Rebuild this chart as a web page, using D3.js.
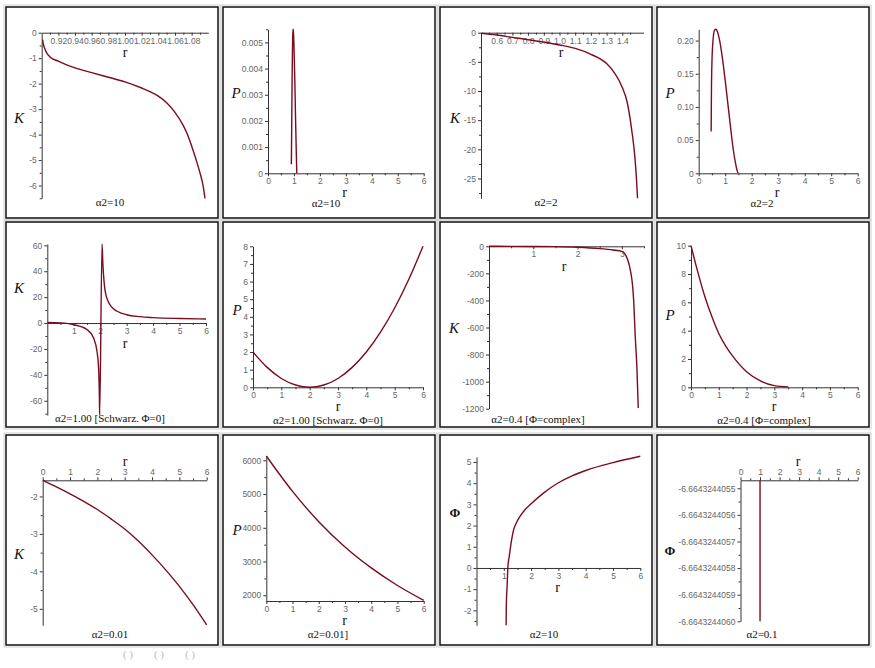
<!DOCTYPE html>
<html>
<head>
<meta charset="utf-8">
<script src="https://cdn.jsdelivr.net/npm/d3@7"></script>
<style>
body { margin: 0; background: #fff; }
.tick text { font-family: "Liberation Sans", Arial, sans-serif; font-size: 8.5px; fill: #666; }
.tick line, .domain { stroke: #333; stroke-width: 1; }
.lbl { font-family: "Liberation Serif", "Times New Roman", serif; fill: #111; }
</style>
</head>
<body>
<script>
// ---- data ----
var p1R = [0.901, 0.902, 0.904, 0.907, 0.91, 0.92, 0.93, 0.94, 0.96, 0.98, 1.00, 1.02, 1.03, 1.04, 1.05, 1.06, 1.07, 1.075, 1.08, 1.085, 1.09, 1.094, 1.096];
var p1K = [-0.27, -0.45, -0.66, -0.84, -0.95, -1.12, -1.26, -1.38, -1.57, -1.75, -1.93, -2.17, -2.31, -2.49, -2.75, -3.13, -3.65, -4.0, -4.45, -4.95, -5.5, -6.05, -6.5];

var p2R = [0.90, 0.91, 0.92, 0.93, 0.94, 0.95, 0.96, 0.97, 0.98, 1.00, 1.03, 1.06, 1.09, 1.11];
var p2P = [0.00035, 0.0014, 0.0026, 0.0037, 0.0045, 0.0051, 0.0054, 0.0055, 0.0054, 0.0049, 0.0037, 0.0022, 0.0008, 0.0];

var p3R = [0.5, 0.6, 0.7, 0.8, 0.9, 1.0, 1.1, 1.2, 1.3, 1.35, 1.4, 1.43, 1.46, 1.48, 1.49, 1.497];
var p3K = [-0.1, -0.4, -0.8, -1.2, -1.6, -2.1, -2.7, -3.7, -5.3, -6.9, -9.4, -11.8, -16.7, -21.3, -25, -28.4];

var p4R = [0.47, 0.48, 0.5, 0.55, 0.6, 0.65, 0.7, 0.8, 0.9, 1.0, 1.1, 1.2, 1.3, 1.4, 1.45, 1.49];
var p4P = [0.063, 0.12, 0.168, 0.205, 0.216, 0.217, 0.214, 0.198, 0.172, 0.14, 0.105, 0.07, 0.037, 0.013, 0.004, 0];

var p5R = [0, 0.5, 1.0, 1.5, 1.75, 1.88, 1.94, 1.97, 1.98, 2.07, 2.1, 2.15, 2.24, 2.5, 3, 3.5, 4, 5, 6];
var p5K = [0.5, 0.1, -1.3, -5, -11.6, -22, -35, -58, -71, 61, 46, 31, 20, 11, 6.4, 4.9, 4.2, 3.5, 3.1];

var p6R = [0, 0.5, 1, 1.5, 2, 2.5, 3, 3.5, 4, 4.5, 5, 5.5, 6];
var p6P = [2, 1.13, 0.5, 0.13, 0, 0.13, 0.5, 1.13, 2, 3.13, 4.5, 6.13, 8];

var p7R = [0, 0.5, 1, 1.5, 2, 2.5, 2.8, 3.0, 3.13, 3.2, 3.24, 3.27, 3.3, 3.34, 3.37];
var p7K = [0, -0.3, -1, -2.5, -7, -17, -27, -37, -98, -190, -283, -420, -650, -900, -1195];

var p8R = [0, 0.25, 0.5, 0.75, 1, 1.25, 1.5, 2, 2.5, 3, 3.5];
var p8P = [10, 8.1, 6.4, 5.0, 3.8, 2.9, 2.2, 1.1, 0.45, 0.12, 0.03];

var p9R = [0, 0.5, 1, 1.5, 2, 2.5, 3, 3.5, 4, 4.5, 5, 5.5, 6];
var p9K = [-1.57, -1.745, -1.93, -2.13, -2.35, -2.6, -2.87, -3.19, -3.56, -3.96, -4.4, -4.89, -5.43];

var p10R = [0, 1, 2, 3, 4, 5, 6];
var p10P = [6128, 5080, 4180, 3430, 2810, 2290, 1850];

var p11R = [1.085, 1.09, 1.1, 1.12, 1.15, 1.2, 1.27, 1.35, 1.45, 1.6, 1.8, 2, 2.5, 3, 3.5, 4, 5, 6];
var p11Phi = [-2.7, -2.0, -1.4, -0.9, 0.05, 0.55, 1.2, 1.75, 2.1, 2.45, 2.78, 3.03, 3.58, 4.02, 4.35, 4.6, 4.97, 5.27];

var p12R = [1, 1];
var p12Phi = [-6.66432440547, -6.6643244060];

// tick values
var p1XTicks = [0.92, 0.94, 0.96, 0.98, 1.00, 1.02, 1.04, 1.06, 1.08];
var p1YTicks = [0, -1, -2, -3, -4, -5, -6];
var p2XTicks = [0, 1, 2, 3, 4, 5, 6];
var p2YTicks = [0, 0.001, 0.002, 0.003, 0.004, 0.005];
var p3XTicks = [0.6, 0.7, 0.8, 0.9, 1.0, 1.1, 1.2, 1.3, 1.4];
var p3YTicks = [0, -5, -10, -15, -20, -25];
var p4XTicks = [0, 1, 2, 3, 4, 5, 6];
var p4YTicks = [0, 0.05, 0.10, 0.15, 0.20];
var p5XTicks = [1, 2, 3, 4, 5, 6];
var p5YTicks = [-60, -40, -20, 0, 20, 40, 60];
var p6XTicks = [0, 1, 2, 3, 4, 5, 6];
var p6YTicks = [0, 1, 2, 3, 4, 5, 6, 7, 8];
var p7XTicks = [1, 2, 3];
var p7YTicks = [0, -200, -400, -600, -800, -1000, -1200];
var p8XTicks = [0, 1, 2, 3, 4, 5, 6];
var p8YTicks = [0, 2, 4, 6, 8, 10];
var p9XTicks = [0, 1, 2, 3, 4, 5, 6];
var p9YTicks = [-2, -3, -4, -5];
var p10XTicks = [0, 1, 2, 3, 4, 5, 6];
var p10YTicks = [2000, 3000, 4000, 5000, 6000];
var p11XTicks = [1, 2, 3, 4, 5, 6];
var p11YTicks = [-2, -1, 0, 1, 2, 3, 4, 5];
var p12XTicks = [0, 1, 2, 3, 4, 5, 6];
var p12YTicks = [-6.6643244055, -6.6643244056, -6.6643244057, -6.6643244058, -6.6643244059, -6.6643244060];

var titles = ["α2=10", "α2=10", "α2=2", "α2=2",
  "α2=1.00 [Schwarz. Φ=0]", "α2=1.00 [Schwarz. Φ=0]", "α2=0.4 [Φ=complex]", "α2=0.4 [Φ=complex]",
  "α2=0.01", "α2=0.01]", "α2=10", "α2=0.1"];
var yNames = ["K", "P", "K", "P", "K", "P", "K", "P", "K", "P", "Φ", "Φ"];

// ---- layout for each panel ----
var panels = [
  {box:[6,7,212,211], r:p1R, v:p1K, xd:[0.90,1.10], xr:[41.7,208.3], yd:[-6.5,0], yr:[198.3,32.7],
   xt:p1XTicks, yt:p1YTicks, xf:2, yf:0, xAt:0, yAt:0.90, top:false, rPos:[125,57], yPos:[19,123], tPos:[110,206]},
  {box:[223,7,212,211], r:p2R, v:p2P, xd:[0,6], xr:[268,423.7], yd:[0,0.0055], yr:[173.3,29.3],
   xt:p2XTicks, yt:p2YTicks, xf:0, yf:3, xAt:0, yAt:0, top:false, rPos:[344.7,197], yPos:[236,98], tPos:[326,207]},
  {box:[440,7,212,211], r:p3R, v:p3K, xd:[0.5,1.535], xr:[481,643.5], yd:[-28.4,0], yr:[198.3,32.7],
   xt:p3XTicks, yt:p3YTicks, xf:1, yf:0, xAt:0, yAt:0.5, top:false, rPos:[561,57], yPos:[455,123], tPos:[546,206]},
  {box:[657,7,212,211], r:p4R, v:p4P, xd:[0,6], xr:[698.7,857.7], yd:[0,0.217], yr:[173.3,29.3],
   xt:p4XTicks, yt:p4YTicks, xf:0, yf:2, xAt:0, yAt:0, top:false, rPos:[777,197], yPos:[670,98], tPos:[762,207]},

  {box:[6,222,212,205], r:p5R, v:p5K, xd:[0,6], xr:[47.3,206], yd:[-71,61], yr:[415,244],
   xt:p5XTicks, yt:p5YTicks, xf:0, yf:0, xAt:0, yAt:0, top:false, rPos:[125,348], yPos:[19,293], tPos:[110,422]},
  {box:[223,222,212,205], r:p6R, v:p6P, xd:[0,6], xr:[253,423], yd:[0,8], yr:[387.3,246.3],
   xt:p6XTicks, yt:p6YTicks, xf:0, yf:0, xAt:0, yAt:0, top:false, rPos:[338,411], yPos:[237,315], tPos:[328,424]},
  {box:[440,222,212,205], r:p7R, v:p7K, xd:[0,3.5], xr:[489,644], yd:[-1200,0], yr:[408.7,246.3],
   xt:p7XTicks, yt:p7YTicks, xf:0, yf:0, xAt:0, yAt:0, top:false, rPos:[564,271], yPos:[454,333], tPos:[538,423]},
  {box:[657,222,212,205], r:p8R, v:p8P, xd:[0,6], xr:[691,857.7], yd:[0,10], yr:[387.3,245.7],
   xt:p8XTicks, yt:p8YTicks, xf:0, yf:0, xAt:0, yAt:0, top:false, rPos:[774,411], yPos:[670,320], tPos:[764,424]},

  {box:[6,435,212,210], r:p9R, v:p9K, xd:[0,6], xr:[42.7,206.7], yd:[-5.44,-1.57], yr:[625.3,480.3],
   xt:p9XTicks, yt:p9YTicks, xf:0, yf:0, xAt:-1.57, yAt:0, top:true, rPos:[125,466], yPos:[19,559], tPos:[110,638]},
  {box:[223,435,212,210], r:p10R, v:p10P, xd:[0,6], xr:[266.3,423.7], yd:[1830,6128], yr:[601,456],
   xt:p10XTicks, yt:p10YTicks, xf:0, yf:0, xAt:1830, yAt:0, top:false, rPos:[344.7,625], yPos:[237,535], tPos:[328,638]},
  {box:[440,435,212,210], r:p11R, v:p11Phi, xd:[0,6], xr:[476.5,640.3], yd:[-2.7,5.24], yr:[625.2,456.9],
   xt:p11XTicks, yt:p11YTicks, xf:0, yf:0, xAt:0, yAt:0, top:false, rPos:[557.7,592], yPos:[455,517], tPos:[544,638]},
  {box:[657,435,212,210], r:p12R, v:p12Phi, xd:[0,6], xr:[740.5,857.7], yd:[-6.6643244060,-6.66432440547], yr:[621.3,480.3],
   xt:p12XTicks, yt:p12YTicks, xf:0, yf:10, xAt:-6.66432440547, yAt:0, top:true, rPos:[798,466], yPos:[670,555], tPos:[762,638], linear:true}
];

var svg = d3.select("body").append("svg")
    .attr("width", 875)
    .attr("height", 668);

function fmt(n){
    return function(d){ return d === 0 ? "0" : d.toFixed(n); };
}

// midpoints between major ticks, plus half a step past each end if it fits
function minorTicks(t, dom){
    var out = [];
    var lo = Math.min(dom[0], dom[1]), hi = Math.max(dom[0], dom[1]);
    for (var i = 0; i < t.length - 1; i++) out.push((t[i] + t[i+1]) / 2);
    if (t.length > 1){
        var step = t[1] - t[0];
        var a = t[0] - step / 2, b = t[t.length-1] + step / 2;
        if (a >= lo && a <= hi) out.push(a);
        if (b >= lo && b <= hi) out.push(b);
    }
    return out;
}

panels.forEach(function(p, i){
    var g = svg.append("g");

    // frame: light shadow line and black border
    g.append("rect")
        .attr("x", p.box[0] - 2).attr("y", p.box[1] - 2)
        .attr("width", p.box[2] + 4).attr("height", p.box[3] + 4)
        .attr("fill", "none").attr("stroke", "#cfcfcf").attr("stroke-width", 1);
    g.append("rect")
        .attr("x", p.box[0]).attr("y", p.box[1])
        .attr("width", p.box[2]).attr("height", p.box[3])
        .attr("fill", "#fff").attr("stroke", "#111").attr("stroke-width", 1.5);

    var x = d3.scaleLinear().domain(p.xd).range(p.xr);
    var y = d3.scaleLinear().domain(p.yd).range(p.yr);
    var ax = y(p.xAt), ay = x(p.yAt);

    // horizontal axis
    var xAxis = (p.top ? d3.axisTop(x) : d3.axisBottom(x))
        .tickValues(p.xt).tickFormat(fmt(p.xf))
        .tickSize(3).tickSizeOuter(0).tickPadding(2);
    g.append("g").attr("transform", "translate(0," + ax + ")").call(xAxis);
    var xMinor = (p.top ? d3.axisTop(x) : d3.axisBottom(x))
        .tickValues(minorTicks(p.xt, p.xd)).tickFormat("").tickSize(2).tickSizeOuter(0);
    g.append("g").attr("transform", "translate(0," + ax + ")").call(xMinor)
        .select(".domain").remove();

    // vertical axis
    var yAxis = d3.axisLeft(y)
        .tickValues(p.yt).tickFormat(fmt(p.yf))
        .tickSize(3).tickSizeOuter(0).tickPadding(2);
    g.append("g").attr("transform", "translate(" + ay + ",0)").call(yAxis);
    var yMinor = d3.axisLeft(y)
        .tickValues(minorTicks(p.yt, p.yd)).tickFormat("").tickSize(2).tickSizeOuter(0);
    g.append("g").attr("transform", "translate(" + ay + ",0)").call(yMinor)
        .select(".domain").remove();

    // the curve
    var pts = p.r.map(function(r, k){ return [r, p.v[k]]; });
    var line = d3.line()
        .x(function(d){ return x(d[0]); })
        .y(function(d){ return y(d[1]); })
        .curve(p.linear ? d3.curveLinear : d3.curveMonotoneX);
    g.append("path")
        .attr("d", line(pts))
        .attr("fill", "none")
        .attr("stroke", "#7a0c1e")
        .attr("stroke-width", 1.4)
        .attr("stroke-linejoin", "round");

    // labels
    g.append("text").attr("class", "lbl")
        .attr("x", p.rPos[0]).attr("y", p.rPos[1])
        .attr("text-anchor", "middle").attr("font-size", 14)
        .text("r");
    var isPhi = yNames[i] === "Φ";
    g.append("text").attr("class", "lbl")
        .attr("x", p.yPos[0]).attr("y", p.yPos[1])
        .attr("text-anchor", "middle")
        .attr("font-size", isPhi ? 13 : 15)
        .attr("font-style", isPhi ? "normal" : "italic")
        .attr("font-weight", isPhi ? "bold" : "normal")
        .text(yNames[i]);
    g.append("text").attr("class", "lbl")
        .attr("x", p.tPos[0]).attr("y", p.tPos[1])
        .attr("text-anchor", "middle").attr("font-size", 11)
        .text(titles[i]);
});

// faint captions under the grid
var captions = ["( )", "( )", "( )"];
svg.selectAll(".cap").data(captions).enter().append("text")
    .attr("class", "cap")
    .attr("x", function(d, i){ return 128 + i * 31; })
    .attr("y", 658)
    .attr("text-anchor", "middle")
    .attr("font-family", "Liberation Serif, serif")
    .attr("font-size", 11)
    .attr("fill", "#bbb")
    .text(function(d){ return d; });
</script>
</body>
</html>
